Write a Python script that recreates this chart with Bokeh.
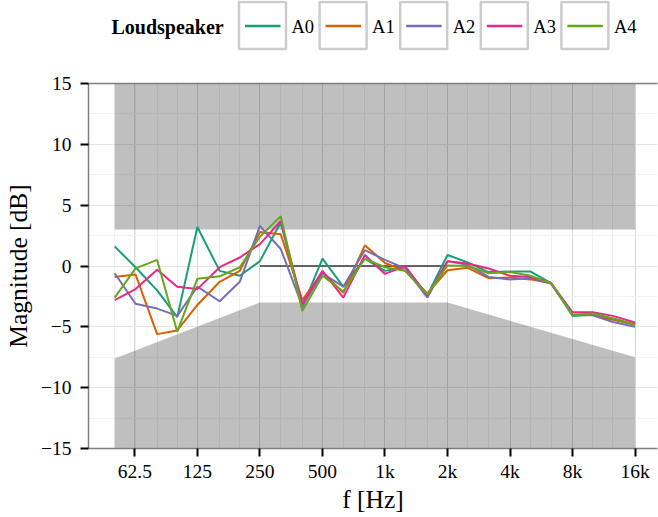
from bokeh.plotting import figure
from bokeh.layouts import column
from bokeh.models import Range1d, FixedTicker, CustomJSTickFormatter, LinearAxis
from bokeh.core.properties import value
from bokeh.embed import file_html
from bokeh.resources import INLINE

# ---------------- data ----------------
freqs = [50, 63, 80, 100, 125, 160, 200, 250, 315, 400, 500, 630, 800,
         1000, 1250, 1600, 2000, 2500, 3150, 4000, 5000, 6300, 8000,
         10000, 12500, 16000]

names = ["A0", "A1", "A2", "A3", "A4"]
A0 = [1.6, -0.1, -2.0, -4.2, 3.2, -0.4, -0.8, 0.4, 3.6, -3.4, 0.6, -1.7, 0.6,
      -0.4, -0.1, -2.4, 0.9, 0.3, -0.5, -0.45, -0.45, -1.4, -4.1, -4.0, -4.4, -4.8]
A1 = [-0.9, -0.7, -5.6, -5.3, -3.2, -1.3, -0.4, 2.8, 2.6, -2.8, -0.5, -2.2, 1.7,
      0.25, -0.4, -2.25, -0.35, -0.15, -1.0, -0.95, -1.1, -1.4, -4.0, -4.0, -4.4, -4.8]
A2 = [-0.6, -3.1, -3.5, -4.1, -1.7, -2.9, -1.3, 3.3, 1.4, -3.3, -0.6, -1.7, 1.3,
      0.5, -0.2, -2.6, 0.4, 0.1, -0.9, -1.1, -1.0, -1.45, -4.0, -4.05, -4.6, -5.0]
A3 = [-2.8, -1.9, -0.3, -1.7, -1.9, -0.1, 0.7, 1.8, 3.7, -3.1, -0.4, -2.6, 0.9,
      -0.65, 0.0, -2.45, 0.4, 0.2, -0.2, -0.8, -0.9, -1.4, -3.8, -3.8, -4.1, -4.65]
A4 = [-2.6, -0.2, 0.5, -5.4, -1.05, -0.85, -0.1, 2.4, 4.1, -3.7, -0.8, -2.1, 0.6,
      -0.1, -0.4, -2.35, 0.05, 0.0, -0.6, -0.5, -0.8, -1.4, -4.0, -3.9, -4.3, -4.8]
series = [A0, A1, A2, A3, A4]
colors = ["#1b9e77", "#d95f02", "#7570b3", "#e7298a", "#66a61e"]

# tolerance mask
upper_x = [50, 16000]
upper_lo = [3, 3]
upper_hi = [15, 15]
lower_x = [50, 250, 2000, 16000]
lower_lo = [-15, -15, -15, -15]
lower_hi = [-7.6, -3, -3, -7.5]
ref_x = [250, 2000]
ref_y = [0, 0]

x_ticks = [62.5, 125, 250, 500, 1000, 2000, 4000, 8000, 16000]
y_ticks = [-15, -10, -5, 0, 5, 10, 15]
y_minor = [-12.5, -7.5, -2.5, 2.5, 7.5, 12.5]

FONT = "Liberation Serif"

# ---------------- main plot ----------------
p = figure(width=658, height=455, x_axis_type="log",
           x_range=Range1d(37.4, 20500), y_range=Range1d(-15, 15),
           output_backend="svg", toolbar_location=None,
           min_border_left=88, min_border_right=1, min_border_top=21,
           min_border_bottom=69)
p.outline_line_color = None
p.background_fill_color = "white"

p.xaxis.ticker = FixedTicker(ticks=x_ticks, minor_ticks=freqs)
p.yaxis.ticker = FixedTicker(ticks=y_ticks, minor_ticks=y_minor)
p.xaxis.formatter = CustomJSTickFormatter(
    code="return tick >= 1000 ? (tick/1000) + 'k' : String(tick);")
p.yaxis.formatter = CustomJSTickFormatter(
    code="return tick < 0 ? '\u2212' + String(-tick) : String(tick);")

for ax in (p.xaxis, p.yaxis):
    ax.axis_line_color = "#7f7f7f"
    ax.axis_line_width = 1.5
    ax.major_tick_line_color = "black"
    ax.major_tick_line_width = 2
    ax.major_tick_in = 0
    ax.major_tick_out = 8
    ax.minor_tick_line_color = None
    ax.major_label_text_font = FONT
    ax.major_label_text_font_size = "19.5px"
    ax.major_label_text_color = "black"
    ax.axis_label_text_font = FONT
    ax.axis_label_text_font_size = "25.5px"
    ax.axis_label_text_font_style = "normal"
    ax.axis_label_text_color = "black"
p.xaxis.axis_label = "f [Hz]"
p.yaxis.axis_label = "Magnitude [dB]"
p.xaxis.major_label_standoff = 4
p.yaxis.major_label_standoff = 9
p.xaxis.axis_label_standoff = 0
p.yaxis.axis_label_standoff = 5

top_axis = LinearAxis(ticker=FixedTicker(ticks=[]), axis_line_color="#7f7f7f",
                      axis_line_width=1.5, major_tick_line_color=None,
                      minor_tick_line_color=None,
                      major_label_text_font_size="0px")
p.add_layout(top_axis, "above")

p.xgrid.grid_line_color = "#dadada"
p.xgrid.minor_grid_line_color = "#efefef"
p.ygrid.grid_line_color = "#e4e4e4"
p.ygrid.minor_grid_line_color = "#f3f3f3"

p.varea(x=upper_x, y1=upper_lo, y2=upper_hi, fill_color="black", fill_alpha=0.25)
p.varea(x=lower_x, y1=lower_lo, y2=lower_hi, fill_color="black", fill_alpha=0.25)
p.line(ref_x, ref_y, line_color="#333333", line_width=1.5)

for ys, c in zip(series, colors):
    p.line(freqs, ys, line_color=c, line_width=2)

# ---------------- legend ----------------
# frame of the legend strip is aligned with the main frame (x 88..657),
# so the range is expressed in page pixels
lg = figure(width=658, height=62, x_range=Range1d(88, 657), y_range=Range1d(62, 0),
            output_backend="svg", toolbar_location=None,
            x_axis_location=None, y_axis_location=None,
            min_border_left=88, min_border_right=1, min_border_top=0,
            min_border_bottom=0)
lg.grid.visible = False
lg.outline_line_color = None

lefts = [238.5 + 80.6 * i for i in range(len(names))]
lg.quad(left=lefts, right=[l + 47 for l in lefts], top=[1.5] * 5, bottom=[48.5] * 5,
        fill_color="white", line_color="#cccccc", line_width=2.5)
for l, c in zip(lefts, colors):
    lg.line([l + 6, l + 41.5], [25.5, 25.5], line_color=c, line_width=2.5)
lg.text(x=[l + 52.5 for l in lefts], y=[26.5] * 5, text=names,
        text_font=value(FONT), text_font_size="18.5px", text_color="black",
        text_baseline="middle", text_align="left")
lg.text(x=[111], y=[26.5], text=["Loudspeaker"], text_font=value(FONT),
        text_font_size="20px", text_font_style="bold", text_color="black",
        text_baseline="middle", text_align="left")

layout = column(lg, p, spacing=0)
open("out.html", "w").write(file_html(layout, INLINE))
